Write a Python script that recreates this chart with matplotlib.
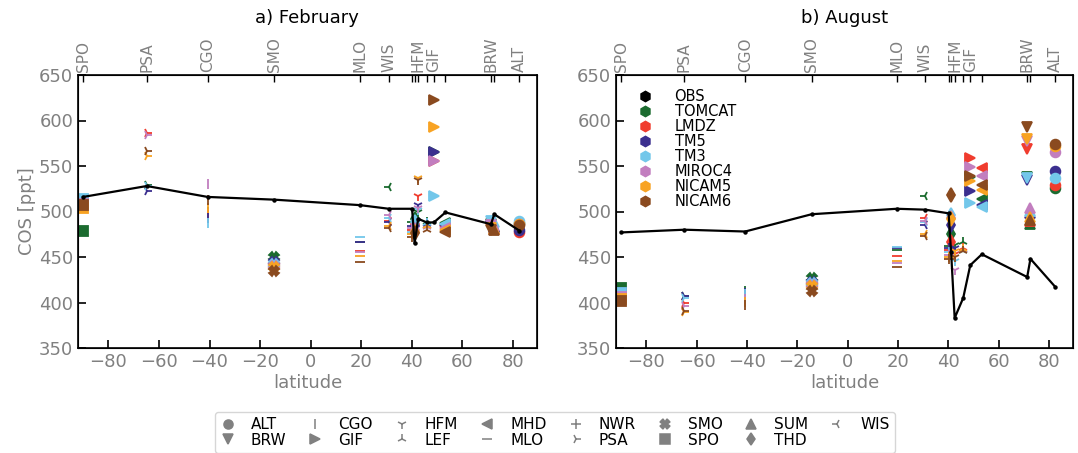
import numpy as np
import matplotlib
matplotlib.use('Agg')
import matplotlib.pyplot as plt
from matplotlib.lines import Line2D

# stations sorted by latitude
stations = ['SPO', 'PSA', 'CGO', 'SMO', 'MLO', 'WIS', 'NWR', 'THD',
            'HFM', 'LEF', 'GIF', 'MHD', 'BRW', 'SUM', 'ALT']
lats = [-90.0, -64.8, -40.7, -14.3, 19.5, 30.9, 40.1, 41.1,
        42.5, 45.9, 48.7, 53.3, 71.3, 72.6, 82.5]
station_markers = ['s', '4', '|', 'X', '_', '3', '+', 'd',
                   '1', '2', '>', '<', 'v', '^', 'o']
top_labels = ['SPO', 'PSA', 'CGO', 'SMO', 'MLO', 'WIS', '', '',
              'HFM', '', 'GIF', '', 'BRW', '', 'ALT']

models = ['TOMCAT', 'LMDZ', 'TM5', 'TM3', 'MIROC4', 'NICAM5', 'NICAM6']
model_colors = ['#1b6b2f', '#f03c2e', '#3b2f8f', '#73c7ea',
                '#c27ebf', '#f8a323', '#8a4a1f']

obs_feb = [516, 528, 516, 513, 507, 503, 503, 465, 492, 488, 488, 499, 486, 497, 479]
obs_aug = [477, 480, 478, 497, 503, 502, 498, 455, 383, 405, 441, 453, 428, 448, 417]

# one row per model (same order as `models`), one column per station
feb_models = [
    [479, 529, 500, 450, 467, 527, 488, 492, 500, 489, 565, 487, 486, 483, 487],  # TOMCAT
    [510, 586, 497, 441, 457, 490, 480, 486, 517, 484, 555, 484, 482, 481, 478],  # LMDZ
    [511, 523, 493, 445, 466, 488, 484, 484, 507, 486, 565, 485, 484, 483, 480],  # TM5
    [514, 528, 487, 442, 472, 493, 478, 488, 502, 487, 517, 486, 490, 489, 490],  # TM3
    [508, 584, 530, 440, 456, 496, 482, 480, 504, 483, 555, 482, 485, 484, 486],  # MIROC4
    [504, 561, 504, 439, 451, 484, 475, 478, 537, 484, 593, 480, 482, 481, 486],  # NICAM5
    [507, 566, 513, 435, 445, 482, 472, 476, 535, 480, 622, 477, 480, 480, 485],  # NICAM6
]
aug_models = [
    [416, 407, 413, 427, 458, 517, 462, 475, 463, 467, 538, 514, 538, 486, 526],  # TOMCAT
    [409, 400, 405, 420, 451, 493, 458, 467, 453, 460, 559, 548, 569, 490, 529],  # LMDZ
    [410, 407, 410, 423, 460, 485, 460, 485, 460, 458, 522, 507, 535, 498, 545],  # TM5
    [410, 405, 409, 421, 461, 488, 455, 496, 446, 457, 509, 505, 537, 501, 537],  # TM3
    [406, 396, 404, 419, 443, 490, 452, 493, 436, 458, 549, 539, 577, 504, 565],  # MIROC4
    [404, 390, 401, 418, 446, 475, 450, 492, 457, 459, 533, 524, 580, 494, 572],  # NICAM5
    [402, 391, 397, 413, 439, 473, 448, 518, 450, 457, 539, 529, 593, 491, 574],  # NICAM6
]

GREY = '#808080'
W, H = 1078, 453


def painel(ax, obs, vals):
    for m, cor in enumerate(model_colors):
        for i, mk in enumerate(station_markers):
            ax.plot(lats[i], vals[m][i], marker=mk, color=cor, ms=7,
                    mew=1.3, ls='none', zorder=2)
    ax.plot(lats, obs, color='k', lw=1.6, marker='o', ms=2.2, zorder=5)
    ax.set_xlim(-92, 89.5)
    ax.set_ylim(350, 650)
    ax.set_xticks(np.arange(-80, 81, 20))
    ax.set_yticks(np.arange(350, 651, 50))
    ax.tick_params(direction='in', labelsize=13, labelcolor=GREY,
                   length=6, width=1.2)
    ax.set_xlabel('latitude', fontsize=13, color=GREY, labelpad=2)
    for s in ax.spines.values():
        s.set_linewidth(1.2)
    top = ax.twiny()
    top.set_xlim(ax.get_xlim())
    top.set_xticks(lats)
    top.set_xticklabels(top_labels, rotation=90)
    top.tick_params(direction='in', labelsize=11, labelcolor=GREY,
                    length=5, width=1, pad=2)


fig = plt.figure(figsize=(W / 100, H / 100), dpi=100)
ax1 = fig.add_axes([78 / W, 1 - 348 / H, (537 - 78) / W, (348 - 75) / H])
ax2 = fig.add_axes([616 / W, 1 - 348 / H, (1073 - 616) / W, (348 - 75) / H])

painel(ax1, obs_feb, feb_models)
painel(ax2, obs_aug, aug_models)
ax1.set_ylabel('COS [ppt]', fontsize=13, color=GREY, labelpad=2)

fig.text(307 / W, 1 - 18 / H, 'a) February', ha='center', va='center', fontsize=13)
fig.text(845 / W, 1 - 18 / H, 'b) August', ha='center', va='center', fontsize=13)

# model legend (right panel)
hand_mod = [Line2D([], [], color='k', marker='h', ls='none', ms=7.5)]
hand_mod += [Line2D([], [], color=c, marker='h', ls='none', ms=7.5) for c in model_colors]
ax2.legend(hand_mod, ['OBS'] + models, loc='upper left', frameon=False,
           fontsize=10.5, handletextpad=1.0, labelspacing=0.0,
           bbox_to_anchor=(0.01, 0.985), borderaxespad=0.3)

# station legend (figure bottom)
ordem = sorted(range(len(stations)), key=lambda i: stations[i])
hand_st = [Line2D([], [], color=GREY, marker=station_markers[i], ls='none',
                  ms=6.5, mew=1.1) for i in ordem]
fig.legend(hand_st, [stations[i] for i in ordem], loc='lower center',
           ncol=8, bbox_to_anchor=(555 / W, -0.017), fontsize=11,
           handlelength=1.0, handletextpad=1.0, columnspacing=1.4,
           labelspacing=0.05, frameon=True, edgecolor='#cccccc',
           borderpad=0.35)

fig.savefig('out.png', dpi=100)
